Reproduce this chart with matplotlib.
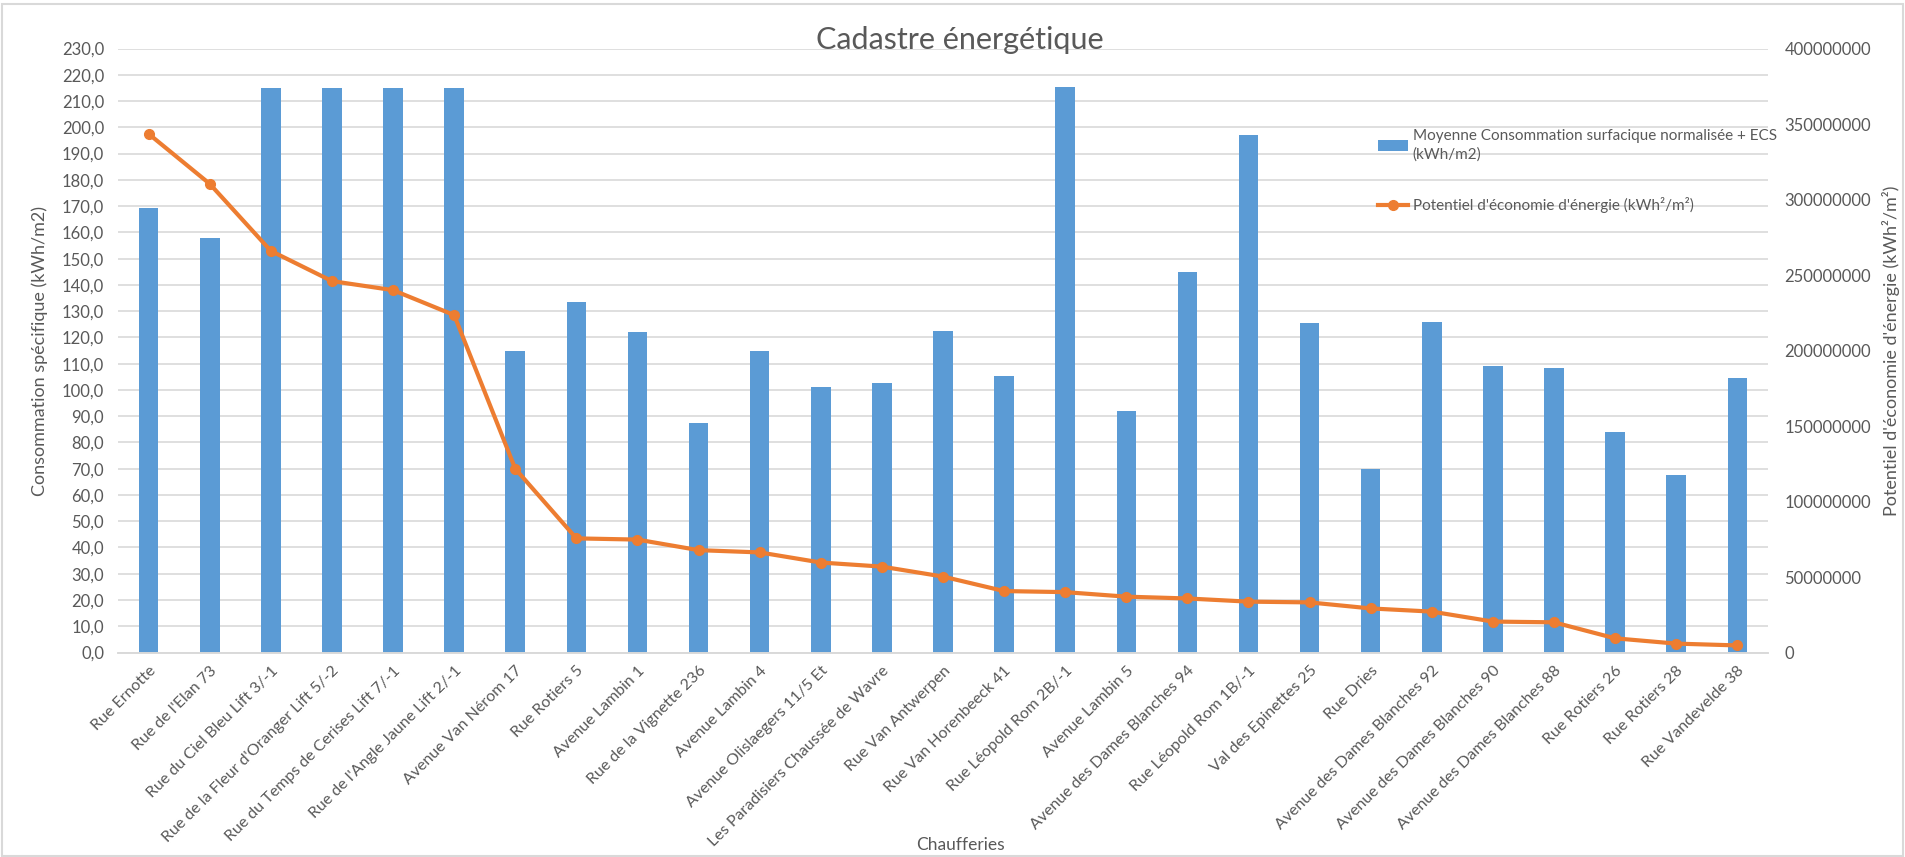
import numpy as np
import matplotlib
matplotlib.use("Agg")
import matplotlib.pyplot as plt
from matplotlib.ticker import FuncFormatter, MultipleLocator
from matplotlib.patches import Rectangle

plt.rcParams['font.family'] = ['Lato', 'DejaVu Sans']

chaufferies = [
    "Rue Ernotte", "Rue de l'Elan 73", "Rue du Ciel Bleu Lift 3/-1",
    "Rue de la Fleur d'Oranger Lift 5/-2", "Rue du Temps de Cerises Lift 7/-1",
    "Rue de l'Angle Jaune Lift 2/-1", "Avenue Van Nérom 17", "Rue Rotiers 5",
    "Avenue Lambin 1", "Rue de la Vignette 236", "Avenue Lambin 4",
    "Avenue Olislaegers 11/5 Et", "Les Paradisiers Chaussée de Wavre",
    "Rue Van Antwerpen", "Rue Van Horenbeeck 41", "Rue Léopold Rom 2B/-1",
    "Avenue Lambin 5", "Avenue des Dames Blanches 94", "Rue Léopold Rom 1B/-1",
    "Val des Epinettes 25", "Rue Dries", "Avenue des Dames Blanches 92",
    "Avenue des Dames Blanches 90", "Avenue des Dames Blanches 88",
    "Rue Rotiers 26", "Rue Rotiers 28", "Rue Vandevelde 38",
]

# kWh/m2
consommation = [169.2, 158.0, 215.0, 215.0, 215.0, 215.0, 114.7, 133.5, 122.0,
                87.5, 115.0, 101.0, 102.5, 122.5, 105.5, 215.5, 92.0, 145.0,
                197.0, 125.5, 70.0, 126.0, 109.2, 108.5, 84.0, 67.5, 104.5]

# kWh²/m²
potentiel = [343.5e6, 310.4e6, 266.0e6, 246.0e6, 240.0e6, 223.5e6, 121.7e6,
             75.6e6, 74.8e6, 67.8e6, 66.3e6, 59.6e6, 56.9e6, 50.3e6, 40.7e6,
             40.0e6, 37.0e6, 35.8e6, 33.7e6, 33.2e6, 29.2e6, 27.1e6, 20.5e6,
             20.0e6, 9.4e6, 5.9e6, 4.7e6]

blue = "#5B9BD5"
orange = "#ED7D31"
grey = "#595959"
grid = "#D9D9D9"

fig = plt.figure(figsize=(19.05, 8.57), dpi=100)
ax = fig.add_axes([0.062, 0.2386, 0.866, 0.7047])
ax2 = ax.twinx()

x = np.arange(len(chaufferies))
bars = ax.bar(x, consommation, width=0.32, color=blue, zorder=2,
              label="Moyenne Consommation surfacique normalisée + ECS\n(kWh/m2)")
line, = ax2.plot(x, potentiel, color=orange, lw=3, marker="o", ms=7,
                 label="Potentiel d'économie d'énergie (kWh²/m²)")

ax.set_xlim(-0.5, len(chaufferies) - 0.5)
ax.set_ylim(0, 230)
ax2.set_ylim(0, 400e6)
ax.yaxis.set_major_locator(MultipleLocator(10))
ax2.yaxis.set_major_locator(MultipleLocator(50e6))
ax.yaxis.set_major_formatter(FuncFormatter(lambda v, p: f"{v:.1f}".replace(".", ",")))
ax2.yaxis.set_major_formatter(FuncFormatter(lambda v, p: f"{int(round(v))}"))

ax.grid(axis="y", color=grid, lw=1.2, zorder=0)
ax.set_axisbelow(True)
for a in (ax, ax2):
    for s in ("top", "left", "right"):
        a.spines[s].set_visible(False)
    a.spines["bottom"].set_color(grid)
    a.spines["bottom"].set_linewidth(1.2)
    a.tick_params(length=0, colors=grey, labelsize=12)

ax.tick_params(axis="y", pad=10)
ax2.tick_params(axis="y", pad=12)
ax.set_xticks(x)
ax.set_xticklabels(chaufferies, rotation=45, ha="right", rotation_mode="anchor",
                   fontsize=11.5)
ax.tick_params(axis="x", pad=8)

ax.set_ylabel("Consommation spécifique (kWh/m2)", color=grey, fontsize=13, labelpad=10)
ax2.set_ylabel("Potentiel d'économie d'énergie (kWh²/m²)", color=grey, fontsize=13, labelpad=8)
fig.text(0.504, 0.014, "Chaufferies", ha="center", va="center",
         fontsize=12.5, color=grey)
fig.text(0.504, 0.953, "Cadastre énergétique", ha="center", va="center",
         fontsize=22, color=grey)

leg = ax2.legend([bars, line], [bars.get_label(), line.get_label()],
                 loc="upper left", bbox_to_anchor=(0.716, 0.866),
                 bbox_transform=fig.transFigure, frameon=False, fontsize=11,
                 labelspacing=2.3, handlelength=2.0, handletextpad=0.3)
for t in leg.get_texts():
    t.set_color(grey)
    t.set_linespacing(1.45)

fig.patches.append(Rectangle((0.001, 0.001), 0.998, 0.994, transform=fig.transFigure,
                             fill=False, edgecolor=grid, lw=1.5))

fig.savefig("out.png", dpi=100)
